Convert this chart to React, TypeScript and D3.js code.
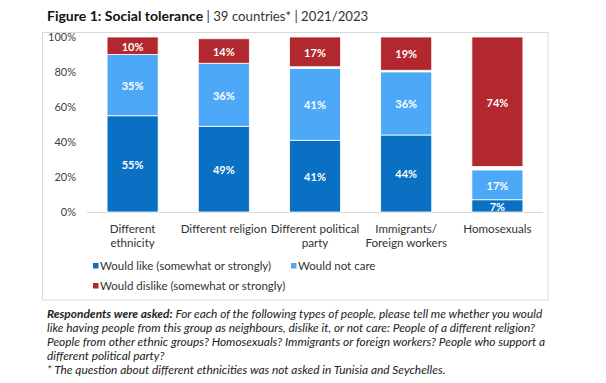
import React from "react";
import * as d3 from "d3";

const categories = ["Different\nethnicity", "Different religion", "Different political\nparty", "Immigrants/\nForeign workers", "Homosexuals"];
const wouldLike = [55, 49, 41, 44, 7];
const wouldNotCare = [35, 36, 41, 36, 17];
const noAnswer = [0, 0, 1, 1, 2];
const wouldDislike = [10, 14, 17, 19, 74];
const yTicks = [0, 20, 40, 60, 80, 100];
const seriesNames = ["Would like (somewhat or strongly)", "Would not care", "", "Would dislike (somewhat or strongly)"];
const colors = ["#0A70C4", "#4DA8F7", "none", "#B2282E"];

const W = 606, H = 383;
const FONT = "Lato, 'Open Sans', sans-serif";

export default function App() {
  const x = d3.scaleBand<string>().domain(categories).range([87, 543]).paddingInner(0.44).paddingOuter(0.22);
  const y = d3.scaleLinear().domain([0, 100]).range([212, 37]);
  const table = categories.map((c, i) => ({ cat: c, a: wouldLike[i], b: wouldNotCare[i], c2: noAnswer[i], d: wouldDislike[i] }));
  const stack = d3.stack<any>().keys(["a", "b", "c2", "d"]);
  const series = stack(table);

  return (
    <svg width={W} height={H} style={{ position: "absolute", left: 0, top: 0, background: "#fff" }}>
      <rect x={0} y={0} width={W} height={H} fill="#fff" />
      {/* title */}
      <text x={47} y={21} fontFamily={FONT} fontSize={14} fill="#111">
        <tspan fontWeight="bold">Figure 1: Social tolerance</tspan>
        <tspan fill="#333" fontSize={13.2}> | 39 countries* | 2021/2023</tspan>
      </text>
      {/* frame */}
      <rect x={42.5} y={32.5} width={505.5} height={267.5} fill="none" stroke="#d9d9d9" strokeWidth={1} />
      {/* y axis labels */}
      {yTicks.map((t) => (
        <text key={t} x={76} y={y(t)} dy="0.35em" textAnchor="end" fontFamily={FONT} fontSize={11} fill="#404040">
          {t}%
        </text>
      ))}
      {/* baseline */}
      <line x1={87} x2={543} y1={212.5} y2={212.5} stroke="#d9d9d9" strokeWidth={1} />
      {/* bars */}
      {series.map((s, si) =>
        colors[si] === "none" ? null : (
          <g key={si}>
            {s.map((d, i) => {
              const cat = categories[i];
              const y0 = y(d[0]);
              const y1 = y(d[1]);
              const val = d[1] - d[0];
              return (
                <g key={i}>
                  <rect x={x(cat)} y={y1} width={x.bandwidth()} height={y0 - y1} fill={colors[si]} stroke="#fff" strokeWidth={0.8} />
                  <text x={(x(cat) as number) + x.bandwidth() / 2} y={(y0 + y1) / 2 + 1} dy="0.35em" textAnchor="middle" fontFamily={FONT} fontWeight="bold" fontSize={11} fill="#fff">
                    {val}%
                  </text>
                </g>
              );
            })}
          </g>
        )
      )}
      {/* category labels */}
      {categories.map((c) =>
        c.split("\n").map((ln, k) => (
          <text key={c + k} x={(x(c) as number) + x.bandwidth() / 2} y={233 + k * 13.5} textAnchor="middle" fontFamily={FONT} fontSize={11.6} fill="#333">
            {ln}
          </text>
        ))
      )}
      {/* legend */}
      {[
        { si: 0, lx: 93, ly: 266 },
        { si: 1, lx: 291, ly: 266 },
        { si: 3, lx: 93, ly: 286 },
      ].map(({ si, lx, ly }) => (
        <g key={si}>
          <rect x={lx} y={ly - 3} width={5.5} height={5.5} fill={colors[si]} />
          <text x={lx + 7} y={ly} dy="0.35em" fontFamily={FONT} fontSize={11.5} fill="#333">
            {seriesNames[si]}
          </text>
        </g>
      ))}
      {/* footnote */}
      <g fontFamily={FONT} fontSize={11.9} fontStyle="italic" fill="#222">
        <text x={47} y={318}>
          <tspan fontWeight="bold">Respondents were asked:</tspan>
          <tspan> For each of the following types of people, please tell me whether you would</tspan>
        </text>
        <text x={47} y={332}>like having people from this group as neighbours, dislike it, or not care: People of a different religion?</text>
        <text x={47} y={346}>People from other ethnic groups? Homosexuals? Immigrants or foreign workers? People who support a</text>
        <text x={47} y={360}>different political party?</text>
        <text x={47} y={374}>* The question about different ethnicities was not asked in Tunisia and Seychelles.</text>
      </g>
    </svg>
  );
}
